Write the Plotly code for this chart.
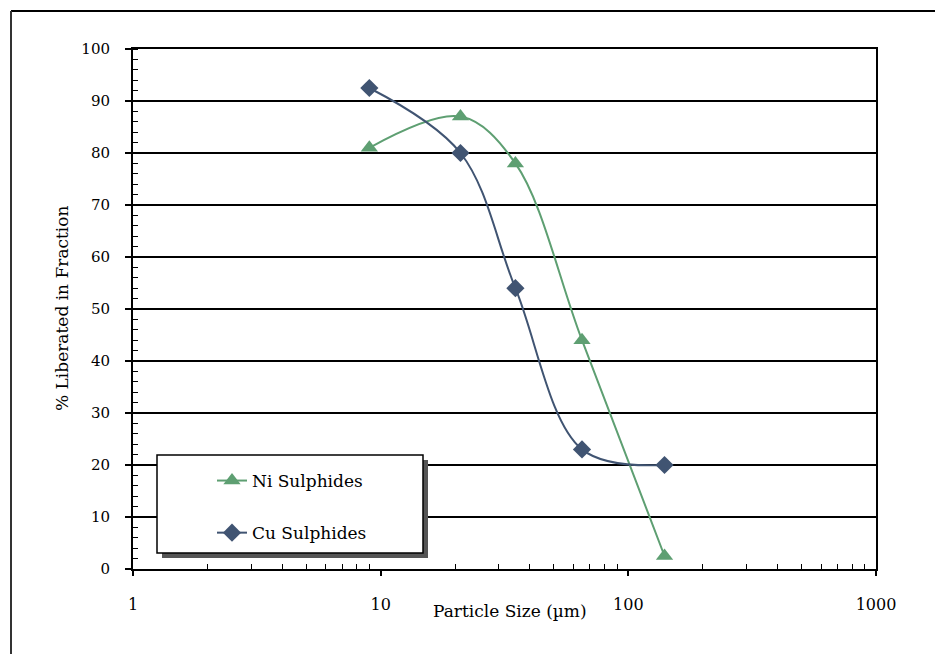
import plotly.graph_objects as go

# Data
particle_size = [9, 21, 35, 65, 140]
ni_liberated = [81, 87, 78, 44, 2.5]
cu_liberated = [92.5, 80, 54, 23, 20]
series_names = ["Ni Sulphides", "Cu Sulphides"]
y_ticks = [0, 10, 20, 30, 40, 50, 60, 70, 80, 90, 100]
x_ticks = [1, 10, 100, 1000]
x_title = "Particle Size (µm)"
y_title = "% Liberated in Fraction"

# page is offset by the 8px default body margin
OFF = 8
W, H = 943 - 2 * OFF, 662 - 2 * OFF
L, R, T, B = 133, 876, 49, 569  # plot area in page pixels
pw, ph = R - L, B - T

def px(x):
    return (x - L) / pw

def py(y):
    return (B - y) / ph

FONT = "DejaVu Serif, Liberation Serif, serif"
ni_col = "#5e9f72"
cu_col = "#405472"

fig = go.Figure()
fig.add_trace(go.Scatter(
    x=particle_size, y=ni_liberated, name=series_names[0], mode="lines+markers",
    line=dict(color=ni_col, width=2, shape="spline", smoothing=1.0),
    marker=dict(symbol="triangle-up", size=15, color=ni_col),
    legendgroup="a",
))
fig.add_trace(go.Scatter(
    x=particle_size, y=cu_liberated, name=series_names[1], mode="lines+markers",
    line=dict(color=cu_col, width=2, shape="spline", smoothing=1.0),
    marker=dict(symbol="diamond", size=14, color=cu_col),
    legendgroup="b",
))

shapes = [
    # outer chart border (top and left)
    dict(type="line", xref="paper", yref="paper", x0=px(11), x1=px(943), y0=py(11), y1=py(11),
         line=dict(color="black", width=2)),
    dict(type="line", xref="paper", yref="paper", x0=px(11), x1=px(11), y0=py(11), y1=py(670),
         line=dict(color="#333", width=2)),
    # legend shadow
    dict(type="rect", xref="paper", yref="paper", x0=px(162), x1=px(428), y0=py(460), y1=py(558),
         fillcolor="#555", line=dict(width=0), layer="above"),
    # legend box
    dict(type="rect", xref="paper", yref="paper", x0=px(157), x1=px(423), y0=py(455), y1=py(553),
         fillcolor="white", line=dict(color="black", width=1.5), layer="above"),
]

annotations = [
    dict(text=x_title, xref="paper", yref="paper", x=px(510), y=py(611),
         xanchor="center", yanchor="middle", showarrow=False,
         font=dict(family=FONT, size=17, color="black")),
    dict(text=y_title, xref="paper", yref="paper", x=px(62), y=py(308),
         xanchor="center", yanchor="middle", showarrow=False, textangle=-90,
         font=dict(family=FONT, size=17, color="black")),
]

fig.update_layout(
    width=W, height=H,
    margin=dict(l=L - OFF, r=W - (R - OFF), t=T - OFF, b=H - (B - OFF)),
    paper_bgcolor="white", plot_bgcolor="white",
    font=dict(family=FONT, size=15, color="black"),
    shapes=shapes,
    annotations=annotations,
    showlegend=True,
    legend=dict(
        x=px(212), y=py(463), xanchor="left", yanchor="top",
        bgcolor="rgba(0,0,0,0)", borderwidth=0,
        traceorder="grouped", tracegroupgap=27,
        font=dict(family=FONT, size=17, color="black"),
    ),
    xaxis=dict(
        type="log", range=[0, 3],
        tickvals=x_ticks, ticktext=[str(v) for v in x_ticks],
        showgrid=False, zeroline=False,
        showline=True, linecolor="black", linewidth=2, mirror=True,
        ticks="outside", ticklen=5, tickcolor="black", tickwidth=1.5,
        ticklabelstandoff=15,
        minor=dict(ticks="inside", ticklen=5, tickcolor="black", tickwidth=1, showgrid=False,
                   tickvals=[2, 3, 4, 5, 6, 7, 8, 9, 20, 30, 40, 50, 60, 70, 80, 90,
                             200, 300, 400, 500, 600, 700, 800, 900]),
        tickfont=dict(family=FONT, size=16),
    ),
    yaxis=dict(
        range=[0, 100], tickvals=y_ticks,
        showgrid=True, gridcolor="black", gridwidth=1.6,
        zeroline=False,
        showline=True, linecolor="black", linewidth=2, mirror=True,
        ticks="outside", ticklen=6, tickcolor="black", tickwidth=1.5,
        ticklabelstandoff=12,
        minor=dict(ticks="inside", ticklen=5, tickcolor="black", tickwidth=1, showgrid=False, dtick=2),
        tickfont=dict(family=FONT, size=15),
    ),
)

fig.write_html("out.html")
